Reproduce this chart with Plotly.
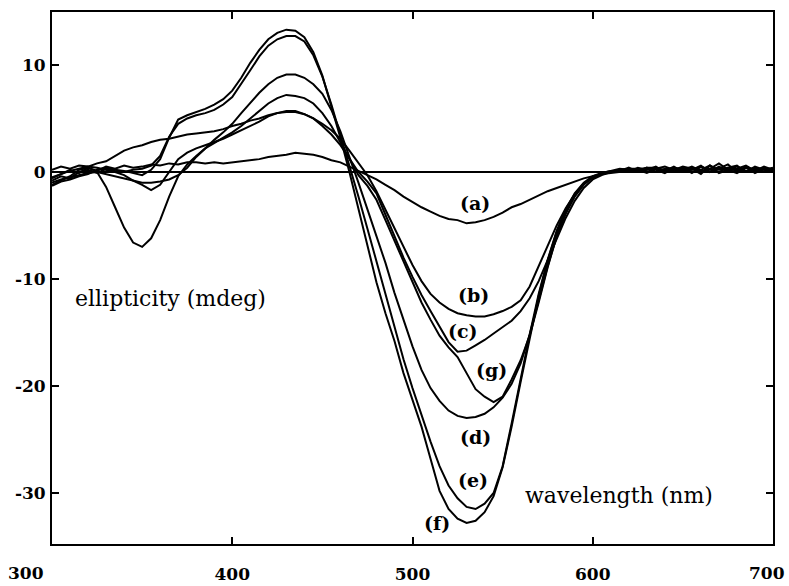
import plotly.graph_objects as go

# wavelength grid (nm)
wavelength = list(range(300, 705, 5))

tail_a = [-0.1, 0.0, 0.1, 0.2, -0.1, 0.3, 0.2, 0.4, 0.1, 0.2, 0.5, 0.0, 0.3, 0.2, -0.1, 0.4, 0.2, 0.0, 0.2]
tail_b = [0.0, 0.1, 0.3, 0.0, 0.3, 0.2, -0.1, 0.4, 0.2, 0.5, 0.1, 0.3, 0.0, 0.4, 0.6, 0.0, 0.3, 0.2, 0.0]
tail_c = [0.0, 0.2, 0.0, 0.4, 0.2, 0.5, 0.0, 0.2, 0.4, -0.1, 0.5, 0.2, 0.3, 0.7, 0.0, 0.4, 0.1, 0.5, 0.2]
tail_d = [0.1, 0.3, 0.2, 0.1, 0.4, 0.0, 0.3, 0.2, 0.5, 0.3, -0.2, 0.6, 0.2, 0.4, 0.1, 0.5, -0.1, 0.3, 0.2]
tail_e = [0.1, 0.0, 0.3, 0.2, 0.4, 0.4, 0.1, 0.0, 0.3, 0.2, 0.6, 0.0, 0.5, 0.1, 0.3, 0.0, 0.5, 0.2, 0.4]
tail_f = [0.0, 0.2, 0.3, 0.3, 0.0, 0.3, 0.5, 0.2, 0.1, 0.4, 0.0, 0.3, 0.8, 0.2, 0.3, 0.6, 0.1, 0.4, 0.0]
tail_g = [0.0, 0.1, 0.4, 0.0, 0.2, 0.3, 0.1, 0.5, 0.0, 0.3, 0.2, 0.6, -0.1, 0.2, 0.5, 0.1, 0.4, 0.0, 0.3]

curve_a = [-0.6, -0.2, 0.2, -0.1, 0.4, 0.1, 0.5, 0.3, 0.6, 0.4,
           0.5, 0.7, 0.6, 0.8, 0.7, 0.9, 0.9, 0.8, 0.9, 0.8,
           0.9, 1.0, 1.1, 1.2, 1.4, 1.5, 1.6, 1.8, 1.7, 1.6,
           1.4, 1.1, 0.9, 0.5, 0.1, -0.3, -0.7, -1.2, -1.7, -2.3,
           -2.8, -3.3, -3.7, -4.1, -4.4, -4.5, -4.8, -4.7, -4.5, -4.2,
           -3.8, -3.3, -3.0, -2.6, -2.2, -1.8, -1.5, -1.2, -0.9, -0.6,
           -0.4, -0.2] + tail_a
curve_b = [0.2, 0.5, 0.3, 0.6, 0.5, 0.8, 1.0, 1.5, 2.0, 2.3,
           2.5, 2.8, 3.0, 3.1, 3.3, 3.5, 3.6, 3.7, 3.8, 4.0,
           4.3, 4.5, 4.8, 5.0, 5.3, 5.5, 5.6, 5.6, 5.4, 5.0,
           4.5, 3.9, 3.1, 2.0, 0.8, -0.3, -1.8, -3.5, -5.3, -7.0,
           -8.7, -10.2, -11.4, -12.2, -12.8, -13.2, -13.4, -13.5, -13.5, -13.3,
           -13.0, -12.6, -12.0, -10.7, -8.8, -6.8, -5.0, -3.4, -2.1, -1.1,
           -0.5, -0.2] + tail_b
curve_c = [-0.5, -0.2, 0.1, 0.3, 0.5, 0.4, 0.2, 0.0, -0.3, -0.8,
           -1.2, -1.7, -1.2, 0.0, 1.2, 1.8, 2.2, 2.5, 2.8, 3.1,
           3.5, 3.9, 4.3, 4.7, 5.2, 5.5, 5.7, 5.7, 5.4, 5.0,
           4.3, 3.5, 2.5, 1.2, 0.0, -0.9, -2.0, -4.0, -6.0, -8.0,
           -9.8, -11.5, -13.0, -14.5, -15.9, -16.8, -16.7, -16.2, -15.7, -15.1,
           -14.5, -13.9, -13.0, -11.8, -10.2, -8.2, -6.2, -4.3, -2.7, -1.5,
           -0.7, -0.3] + tail_c
curve_d = [-1.0, -0.7, -0.5, -0.3, -0.1, 0.0, -0.2, -0.4, -0.6, -0.8,
           -1.0, -1.0, -0.9, -0.7, -0.3, 0.4, 1.4, 2.2, 3.0, 3.7,
           4.5, 5.5, 6.5, 7.4, 8.2, 8.8, 9.1, 9.1, 8.8, 8.2,
           7.3, 5.8, 3.8, 1.5, -1.0, -3.5, -6.0, -8.5, -11.3, -13.9,
           -16.3, -18.5, -20.2, -21.4, -22.3, -22.8, -23.0, -22.9, -22.6, -22.0,
           -21.1, -19.8, -17.9, -15.2, -12.0, -8.8, -6.0, -3.9, -2.3, -1.2,
           -0.5, -0.1] + tail_d
curve_e = [-0.8, -0.4, -0.6, 0.0, 0.2, -0.1, 0.3, 0.1, 0.0, 0.2,
           0.3, 0.6, 1.5, 3.3, 4.5, 5.0, 5.3, 5.5, 5.8, 6.3,
           7.0, 8.2, 9.5, 10.8, 11.8, 12.4, 12.7, 12.7, 12.2, 10.9,
           8.9, 6.3, 3.5, 0.7, -2.3, -5.3, -8.3, -11.5, -14.5, -17.5,
           -20.2, -22.8, -25.2, -27.5, -29.3, -30.5, -31.3, -31.5, -31.0, -30.0,
           -27.5, -23.5, -19.2, -15.2, -11.4, -8.2, -5.5, -3.5, -2.0, -1.0,
           -0.4, -0.1] + tail_e
curve_f = [-1.3, -0.9, -0.7, -0.4, -0.2, 0.2, 0.4, 0.2, 0.1, -0.1,
           -0.3, 0.2, 1.2, 3.2, 4.9, 5.3, 5.6, 5.9, 6.3, 6.8,
           7.6, 8.8, 10.2, 11.4, 12.4, 13.0, 13.3, 13.2, 12.6, 11.2,
           9.0, 6.2, 3.2, 0.0, -3.5, -7.0, -10.3, -13.2, -15.8, -18.8,
           -21.3, -23.8, -26.8, -29.8, -31.5, -32.4, -32.8, -32.6, -31.8, -30.3,
           -27.6, -23.8, -19.6, -15.5, -11.6, -8.3, -5.6, -3.6, -2.1, -1.1,
           -0.5, -0.2] + tail_f
curve_g = [-1.2, -0.8, -0.4, 0.2, 0.4, 0.0, -1.4, -3.3, -5.2, -6.6,
           -7.0, -6.2, -4.5, -2.3, -0.4, 0.7, 1.5, 2.2, 2.7, 3.2,
           3.7, 4.3, 5.0, 5.7, 6.4, 6.9, 7.2, 7.1, 6.9, 6.4,
           5.5, 4.3, 2.8, 1.2, -0.3, -1.3, -2.6, -4.5, -6.4, -8.4,
           -10.3, -12.2, -13.8, -15.3, -16.4, -17.3, -18.8, -20.3, -21.0, -21.5,
           -21.0, -19.4, -17.6, -15.3, -12.2, -8.9, -6.0, -3.8, -2.2, -1.1,
           -0.5, -0.2] + tail_g

curves = [curve_a, curve_b, curve_c, curve_d, curve_e, curve_f, curve_g]

# curve labels and where they sit (data coords)
labels = ["(a)", "(b)", "(c)", "(d)", "(e)", "(f)", "(g)"]
label_x = [534.7, 533.6, 528.0, 534.7, 533.6, 513.6, 544.1]
label_y = [-2.9, -11.5, -14.9, -24.8, -28.8, -32.8, -18.5]

x_ticks = [400, 500, 600]
y_ticks = [10, 0, -10, -20, -30]
y_ticktext = ["10", "0", "-10", "-20", "-30"]

fig = go.Figure()
for c in curves:
    fig.add_trace(go.Scatter(x=wavelength, y=c, mode="lines",
                             line=dict(color="black", width=2),
                             showlegend=False, hoverinfo="skip"))

tickfont = dict(family="DejaVu Serif", size=17, color="black", weight="bold")

fig.update_layout(
    width=789, height=586,
    margin=dict(l=52, r=16, t=12, b=42),
    paper_bgcolor="white", plot_bgcolor="white",
    showlegend=False,
    xaxis=dict(range=[300, 700], showgrid=False, zeroline=False, automargin=False,
               showline=True, linecolor="black", linewidth=2, mirror="ticks",
               ticks="inside", ticklen=7, tickwidth=1.5, tickcolor="black",
               tickvals=x_ticks, ticktext=[str(v) for v in x_ticks],
               tickfont=tickfont, ticklabelstandoff=14),
    yaxis=dict(range=[-34.77, 14.95], showgrid=False, automargin=False,
               zeroline=True, zerolinecolor="black", zerolinewidth=1.5,
               showline=True, linecolor="black", linewidth=2, mirror="ticks",
               ticks="inside", ticklen=7, tickwidth=1.5, tickcolor="black",
               tickvals=y_ticks, ticktext=y_ticktext,
               tickfont=tickfont, ticklabelstandoff=1),
)

for t, x, y in zip(labels, label_x, label_y):
    fig.add_annotation(x=x, y=y, text=t, showarrow=False,
                       font=dict(family="DejaVu Serif", size=19, color="black", weight="bold"))

# end labels of the x axis (offset like the original)
fig.add_annotation(x=300, y=-0.0545, xref="x", yref="paper", text="300", showarrow=False,
                   yanchor="middle", xshift=-26, font=tickfont)
fig.add_annotation(x=700, y=-0.0545, xref="x", yref="paper", text="700", showarrow=False,
                   yanchor="middle", xshift=-6, font=tickfont)

fig.add_annotation(x=311.7, y=-11.8, text="ellipticity (mdeg)", showarrow=False,
                   xanchor="left", font=dict(family="DejaVu Serif", size=22, color="black"))
fig.add_annotation(x=561.3, y=-30.2, text="wavelength (nm)", showarrow=False,
                   xanchor="left", font=dict(family="DejaVu Serif", size=22, color="black"))

fig.write_html("out.html")
